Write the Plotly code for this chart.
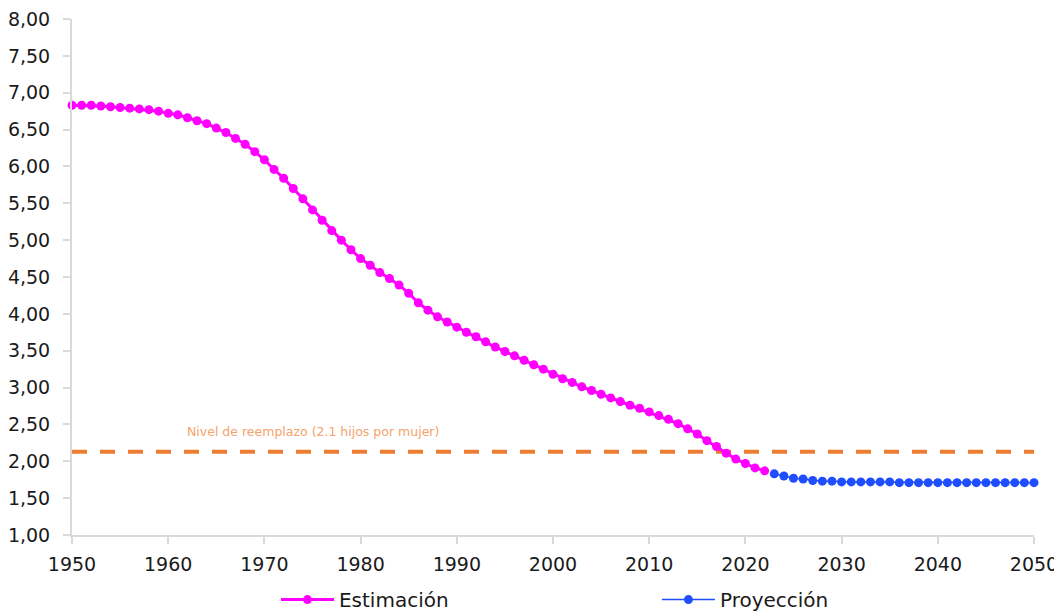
import plotly.graph_objects as go

years_est = list(range(1950, 2023))
tfr_est = [6.83, 6.83, 6.83, 6.82, 6.81, 6.80, 6.79, 6.78, 6.77, 6.75,
           6.72, 6.70, 6.66, 6.62, 6.58, 6.52, 6.46, 6.38, 6.30, 6.20,
           6.09, 5.96, 5.84, 5.70, 5.56, 5.41, 5.27, 5.13, 5.00, 4.87,
           4.75, 4.66, 4.56, 4.48, 4.39, 4.28, 4.15, 4.05, 3.96, 3.89,
           3.82, 3.75, 3.69, 3.62, 3.55, 3.49, 3.43, 3.37, 3.31, 3.25,
           3.18, 3.12, 3.07, 3.01, 2.96, 2.91, 2.86, 2.81, 2.76, 2.72,
           2.67, 2.62, 2.57, 2.51, 2.44, 2.37, 2.28, 2.20, 2.11, 2.03,
           1.97, 1.91, 1.87]

years_proj = list(range(2023, 2051))
tfr_proj = [1.83, 1.80, 1.77, 1.76, 1.74, 1.73, 1.73, 1.72, 1.72, 1.72,
            1.72, 1.72, 1.72, 1.71, 1.71, 1.71, 1.71, 1.71, 1.71, 1.71,
            1.71, 1.71, 1.71, 1.71, 1.71, 1.71, 1.71, 1.71]

repl_years = [1950, 2050]
repl_level = [2.13, 2.13]
repl_label = "Nivel de reemplazo (2.1 hijos por mujer)"

x_ticks = list(range(1950, 2051, 10))
y_ticks = [1.0, 1.5, 2.0, 2.5, 3.0, 3.5, 4.0, 4.5, 5.0, 5.5, 6.0, 6.5, 7.0, 7.5, 8.0]

FONT = "DejaVu Sans, sans-serif"
TXT = "#1a1a1a"

fig = go.Figure()
fig.add_trace(go.Scatter(
    x=repl_years, y=repl_level, mode="lines", showlegend=False,
    line=dict(color="#ED7D31", width=4, dash="15px,13px"), hoverinfo="skip"))
fig.add_trace(go.Scatter(
    x=years_est, y=tfr_est, mode="lines+markers", name="Estimación",
    line=dict(color="#FF00FF", width=3),
    marker=dict(color="#FF00FF", size=9), cliponaxis=False))
fig.add_trace(go.Scatter(
    x=years_proj, y=tfr_proj, mode="lines+markers", name="Proyección",
    line=dict(color="#1F4EFF", width=1.5),
    marker=dict(color="#1F4EFF", size=9), cliponaxis=False))

fig.add_annotation(x=1975, y=2.40, text=repl_label, showarrow=False,
                   font=dict(family=FONT, size=12.5, color="#F4A36A"))

fig.update_layout(
    width=1054, height=606,
    margin=dict(l=64, r=28, t=11, b=79, autoexpand=False),
    paper_bgcolor="white", plot_bgcolor="white",
    separators=",.",
    font=dict(family=FONT, size=19, color=TXT),
    showlegend=True,
    legend=dict(orientation="h", x=0.212, xanchor="left", y=-0.163, yanchor="bottom",
                font=dict(family=FONT, size=20, color=TXT),
                entrywidth=313, itemwidth=53, bgcolor="rgba(0,0,0,0)"),
)
fig.update_xaxes(range=[1950, 2050], tickvals=x_ticks, showgrid=False, zeroline=False,
                 automargin=False, ticklabeloverflow="allow",
                 showline=True, linecolor="#D9D9D9", linewidth=2,
                 ticks="outside", ticklen=7, tickcolor="#D9D9D9", tickwidth=2,
                 ticklabelstandoff=4,
                 tickfont=dict(family=FONT, size=19, color=TXT))
fig.update_yaxes(range=[1, 8], tickvals=y_ticks, tickformat=".2f", showgrid=False,
                 automargin=False, ticklabeloverflow="allow",
                 zeroline=False, showline=True, linecolor="#D9D9D9", linewidth=2,
                 ticks="outside", ticklen=7, tickcolor="#D9D9D9", tickwidth=2,
                 ticklabelstandoff=9,
                 tickfont=dict(family=FONT, size=19, color=TXT))

fig.write_html("out.html")
